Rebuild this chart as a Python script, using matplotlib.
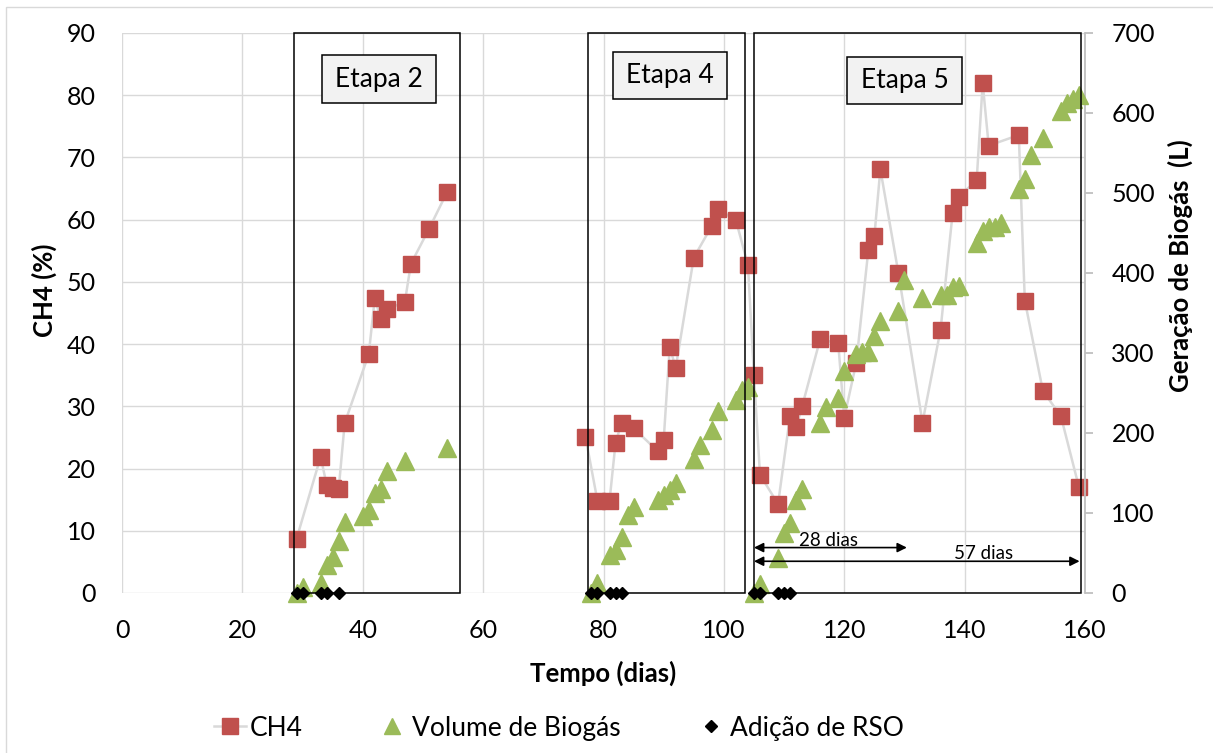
import numpy as np
import matplotlib
matplotlib.use("Agg")
import matplotlib.pyplot as plt
from matplotlib.lines import Line2D
from matplotlib.patches import Rectangle

plt.rcParams["font.family"] = ["Lato", "DejaVu Sans"]

# CH4 (%) - gap between the two campaigns
ch4_dias = [29, 33, 34, 35, 36, 37, 41, 42, 43, 44, 47, 48, 51, 54, np.nan,
            77, 79, 81, 82, 83, 85, 89, 90, 91, 92, 95, 98, 99, 102, 104,
            105, 106, 109, 111, 112, 113, 116, 119, 120, 122, 124, 125, 126,
            129, 133, 136, 138, 139, 142, 143, 144, 149, 150, 153, 156, 159]
ch4_pct = [8.7, 21.9, 17.4, 16.9, 16.7, 27.3, 38.4, 47.4, 44.0, 45.6, 46.8, 52.9, 58.5, 64.4, np.nan,
           25.1, 14.8, 14.8, 24.1, 27.4, 26.5, 22.8, 24.6, 39.5, 36.2, 53.9, 59.0, 61.7, 59.9, 52.7,
           35.0, 19.0, 14.3, 28.5, 26.6, 30.0, 40.8, 40.1, 28.2, 37.0, 55.1, 57.3, 68.1,
           51.4, 27.4, 42.3, 61.0, 63.7, 66.3, 81.9, 71.9, 73.6, 47.0, 32.5, 28.4, 17.0]

# Volume de biogas (L)
vol_dias = [29, 30, 33, 34, 35, 36, 37, 40, 41, 42, 43, 44, 47, 54,
            78, 79, 81, 82, 83, 84, 85, 89, 90, 91, 92, 95, 96, 98, 99, 102, 103, 104,
            105, 106, 109, 110, 111, 112, 113, 116, 117, 119, 120, 122, 123, 124, 125, 126,
            129, 130, 133, 136, 137, 138, 139, 142, 143, 144, 145, 146, 149, 150, 151,
            153, 156, 157, 158, 159]
vol_L = [0, 8, 12, 35, 45, 65, 89, 96, 104, 125, 130, 152, 165, 181,
         0, 12, 47, 54, 70, 97, 107, 116, 122, 129, 138, 168, 185, 204, 228, 241, 254, 258,
         0, 11, 44, 75, 88, 116, 130, 213, 233, 244, 277, 299, 301, 301, 321, 340,
         353, 391, 369, 372, 373, 383, 384, 437, 452, 457, 457, 463, 505, 518, 547,
         569, 603, 612, 618, 623]

# Adicao de RSO
rso_dias = [29, 30, 33, 34, 36, 78, 79, 81, 82, 83, 105, 106, 109, 110, 111]
rso_val = [0] * len(rso_dias)

# etapas
etapas = ["Etapa 2", "Etapa 4", "Etapa 5"]
etapa_ini = [28.5, 77.4, 105.0]
etapa_fim = [56.2, 103.5, 159.3]
etapa_lbl_x = [42.7, 91.1, 130.0]
etapa_lbl_y = [82.6, 83.2, 82.4]

grid_c = "#D9D9D9"

fig = plt.figure(figsize=(12.13, 7.53), dpi=100)
ax = fig.add_axes([122 / 1213, 1 - 593 / 753, 963 / 1213, 560 / 753])
ax2 = ax.twinx()

ax.plot(ch4_dias, ch4_pct, color=grid_c, lw=1.8, marker="s", ms=12,
        mfc="#C0504D", mec="#C0504D", clip_on=False, zorder=3)
ax2.plot(vol_dias, vol_L, ls="none", marker="^", ms=12.5,
         mfc="#9BBB59", mec="#9BBB59", clip_on=False, zorder=3)
ax2.plot(rso_dias, rso_val, ls="none", marker="D", ms=6,
         mfc="black", mec="black", clip_on=False, zorder=4)

ax.set_xlim(0, 160)
ax.set_ylim(0, 90)
ax2.set_ylim(0, 700)
ax.set_xticks(range(0, 161, 20))
ax.set_yticks(range(0, 91, 10))
ax2.set_yticks(range(0, 701, 100))

ax.grid(True, color=grid_c, lw=1)
ax.set_axisbelow(True)
for s in ["top", "right", "left", "bottom"]:
    ax.spines[s].set_visible(False)
for s in ["top", "left", "bottom"]:
    ax2.spines[s].set_visible(False)
ax2.spines["right"].set_color("#BFBFBF")
ax2.spines["right"].set_linewidth(1.3)

ax.tick_params(axis="both", length=0, labelsize=18, colors="black")
ax.tick_params(axis="y", pad=19)
ax.tick_params(axis="x", pad=19)
ax2.tick_params(axis="y", direction="out", length=6, width=1.3, color="#BFBFBF",
                labelsize=18, pad=13, labelcolor="black")

ax.set_xlabel("Tempo (dias)", fontsize=18.5, fontweight="bold")
ax.xaxis.set_label_coords(0.4995, -0.121)
ax.set_ylabel("CH4 (%)", fontsize=18.5, fontweight="bold")
ax.yaxis.set_label_coords(-0.068, 0.541)
ax2.set_ylabel("Geração de Biogás  (L)", fontsize=18.5, fontweight="bold")
ax2.yaxis.set_label_coords(1.086, 0.584)

# caixas das etapas
for nome, x0, x1, lx, ly in zip(etapas, etapa_ini, etapa_fim, etapa_lbl_x, etapa_lbl_y):
    ax2.add_patch(Rectangle((x0, 0), x1 - x0, 90, transform=ax.transData,
                            fill=False, ec="black", lw=1.1, zorder=5, clip_on=False))
    ax2.add_patch(Rectangle((lx - 9.5, ly - 3.8), 19, 7.6, transform=ax.transData,
                            fc="#F2F2F2", ec="black", lw=1.1, zorder=6, clip_on=False))
    ax2.text(lx, ly, nome, transform=ax.transData, ha="center", va="center",
             fontsize=19, zorder=7)

# setas de duracao
arrow = dict(arrowstyle="<|-|>", color="black", lw=1.2, mutation_scale=14,
             shrinkA=0, shrinkB=0)
ax2.annotate("", xy=(130.4, 7.3), xytext=(105.0, 7.3), xycoords=ax.transData,
             textcoords=ax.transData, arrowprops=arrow, zorder=6)
ax2.annotate("", xy=(159.1, 5.1), xytext=(105.0, 5.1), xycoords=ax.transData,
             textcoords=ax.transData, arrowprops=arrow, zorder=6)
ax2.text(117.4, 8.5, "28 dias", transform=ax.transData, ha="center", va="center",
         fontsize=13.5, zorder=7)
ax2.text(143.1, 6.4, "57 dias", transform=ax.transData, ha="center", va="center",
         fontsize=13.5, zorder=7)

handles = [
    Line2D([], [], color=grid_c, lw=1.8, marker="s", ms=12, mfc="#C0504D", mec="#C0504D"),
    Line2D([], [], ls="none", marker="^", ms=12, mfc="#9BBB59", mec="#9BBB59"),
    Line2D([], [], ls="none", marker="D", ms=6, mfc="black", mec="black"),
]
fig.legend(handles, ["CH4", "Volume de Biogás", "Adição de RSO"], loc="center",
           bbox_to_anchor=(0.461, 0.033), ncol=3, frameon=False, fontsize=19,
           handlelength=1.2, handletextpad=0.15, columnspacing=2.8)

# borda do grafico
fig.patches.append(Rectangle((6 / 1213, -0.1), 1.2, 1 - 7 / 753 + 0.1,
                             transform=fig.transFigure, fill=False,
                             ec="#D9D9D9", lw=1))

fig.savefig("out.png", dpi=100)
